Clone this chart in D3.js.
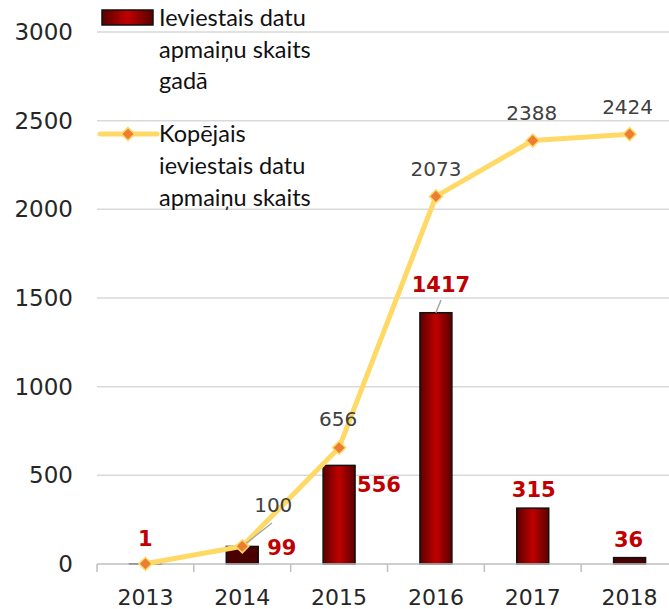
<!DOCTYPE html>
<html>
<head>
<meta charset="utf-8">
<script src="https://cdn.jsdelivr.net/npm/d3@7"></script>
<style>
  body { margin: 0; background: white; }
</style>
</head>
<body>
<div id="chart"></div>
<script>
// data
const years = ["2013", "2014", "2015", "2016", "2017", "2018"];
const perYear = [1, 99, 556, 1417, 315, 36];
const cumulative = [1, 100, 656, 2073, 2388, 2424];
const yTicks = [0, 500, 1000, 1500, 2000, 2500, 3000];
const legendBar = ["Ieviestais datu", "apmaiņu skaits", "gadā"];
const legendLine = ["Kopējais", "ieviestais datu", "apmaiņu skaits"];

const width = 669, height = 609;

const svg = d3.select("#chart")
    .append("svg")
    .attr("width", width)
    .attr("height", height);

const x = d3.scaleBand()
    .domain(years)
    .range([97, 678])
    .padding(0);

const y = d3.scaleLinear()
    .domain([0, 3000])
    .range([564, 32]);

const cx = d => x(d) + x.bandwidth() / 2;

// gradient for the bars
const defs = svg.append("defs");
const grad = defs.append("linearGradient")
    .attr("id", "barGrad")
    .attr("x1", "0%").attr("x2", "100%");
grad.append("stop").attr("offset", "0%").attr("stop-color", "#5a0000");
grad.append("stop").attr("offset", "50%").attr("stop-color", "#c00000");
grad.append("stop").attr("offset", "100%").attr("stop-color", "#5a0000");

// gridlines
svg.append("g")
    .selectAll("line")
    .data(yTicks.filter(t => t > 0))
    .join("line")
    .attr("x1", 97).attr("x2", width)
    .attr("y1", d => y(d)).attr("y2", d => y(d))
    .attr("stroke", "#d9d9d9")
    .attr("stroke-width", 1.5);

// y labels
svg.append("g")
    .selectAll("text")
    .data(yTicks)
    .join("text")
    .attr("x", 73)
    .attr("y", d => y(d) + 8)
    .attr("text-anchor", "end")
    .attr("font-family", "DejaVu Sans")
    .attr("font-size", 23)
    .attr("fill", "#262626")
    .text(d => d);

// bars
const barW = x.bandwidth() * 0.33;
svg.append("g")
    .selectAll("rect")
    .data(years)
    .join("rect")
    .attr("x", d => cx(d) - barW / 2)
    .attr("width", barW)
    .attr("y", (d, i) => y(perYear[i]))
    .attr("height", (d, i) => y(0) - y(perYear[i]))
    .attr("fill", (d, i) => perYear[i] < 120 ? "#4a0000" : "url(#barGrad)")
    .attr("stroke", "#111")
    .attr("stroke-width", 1.5);

// x axis
const xAxis = svg.append("g");
xAxis.append("line")
    .attr("x1", 97).attr("x2", width)
    .attr("y1", y(0)).attr("y2", y(0))
    .attr("stroke", "#bfbfbf").attr("stroke-width", 1.5);
xAxis.selectAll("line.tick")
    .data(years)
    .join("line")
    .attr("class", "tick")
    .attr("x1", d => x(d)).attr("x2", d => x(d))
    .attr("y1", y(0)).attr("y2", y(0) + 8)
    .attr("stroke", "#bfbfbf").attr("stroke-width", 1.5);
xAxis.selectAll("text")
    .data(years)
    .join("text")
    .attr("x", d => cx(d))
    .attr("y", 605)
    .attr("text-anchor", "middle")
    .attr("font-family", "DejaVu Sans")
    .attr("font-size", 22)
    .attr("fill", "#262626")
    .text(d => d);

// cumulative line
const line = d3.line()
    .x((d, i) => cx(years[i]))
    .y(d => y(d));

svg.append("path")
    .datum(cumulative)
    .attr("d", line)
    .attr("fill", "none")
    .attr("stroke", "#ffd966")
    .attr("stroke-width", 5)
    .attr("stroke-linejoin", "round");

const diamond = d3.symbol().type(d3.symbolDiamond2).size(110);
svg.append("g")
    .selectAll("path")
    .data(cumulative)
    .join("path")
    .attr("d", diamond)
    .attr("transform", (d, i) => `translate(${cx(years[i])},${y(d)})`)
    .attr("fill", "#ed7d31")
    .attr("stroke", "#ffd966")
    .attr("stroke-width", 1.5);

// leader lines
svg.append("line")
    .attr("x1", 272).attr("y1", 523)
    .attr("x2", cx("2014") + 4).attr("y2", y(100) - 3)
    .attr("stroke", "#a6a6a6").attr("stroke-width", 1.5);
svg.append("line")
    .attr("x1", 441).attr("y1", 300)
    .attr("x2", cx("2016")).attr("y2", y(1417))
    .attr("stroke", "#a6a6a6").attr("stroke-width", 1.5);

// bar value labels (placement offsets)
const barLabelPos = [
    { dx: 0, dy: -18, anchor: "middle" },
    { dx: 25, dy: 9, anchor: "start" },
    { dx: 18, dy: 27, anchor: "start" },
    { dx: 5, dy: -21, anchor: "middle" },
    { dx: 1, dy: -11, anchor: "middle" },
    { dx: -1, dy: -11, anchor: "middle" }
];
svg.append("g")
    .selectAll("text")
    .data(perYear)
    .join("text")
    .attr("x", (d, i) => cx(years[i]) + barLabelPos[i].dx)
    .attr("y", (d, i) => y(d) + barLabelPos[i].dy)
    .attr("text-anchor", (d, i) => barLabelPos[i].anchor)
    .attr("font-family", "DejaVu Sans")
    .attr("font-weight", "bold")
    .attr("font-size", 21)
    .attr("fill", "#c00000")
    .text(d => d);

// line value labels (2013 has none)
const lineLabelPos = [
    null,
    { dx: 31, dy: -34 },
    { dx: -1, dy: -22 },
    { dx: 0, dy: -20 },
    { dx: -1, dy: -21 },
    { dx: -2, dy: -20 }
];
svg.append("g")
    .selectAll("text")
    .data(cumulative.map((v, i) => ({ v, i })).filter(d => lineLabelPos[d.i]))
    .join("text")
    .attr("x", d => cx(years[d.i]) + lineLabelPos[d.i].dx)
    .attr("y", d => y(d.v) + lineLabelPos[d.i].dy)
    .attr("text-anchor", "middle")
    .attr("font-family", "DejaVu Sans")
    .attr("font-size", 20)
    .attr("fill", "#404040")
    .text(d => d.v);

// legend
const legend = svg.append("g");
legend.append("rect")
    .attr("x", 102).attr("y", 10)
    .attr("width", 51).attr("height", 15)
    .attr("fill", "url(#barGrad)")
    .attr("stroke", "#111").attr("stroke-width", 1.5);
legend.append("text")
    .attr("font-family", "Lato")
    .attr("font-size", 23.5)
    .attr("fill", "#111")
    .selectAll("tspan")
    .data(legendBar)
    .join("tspan")
    .attr("x", 159)
    .attr("y", (d, i) => 26 + i * 31.5)
    .text(d => d);

legend.append("line")
    .attr("x1", 100).attr("x2", 157)
    .attr("y1", 134).attr("y2", 134)
    .attr("stroke", "#ffd966").attr("stroke-width", 5)
    .attr("stroke-linecap", "round");
legend.append("path")
    .attr("d", diamond)
    .attr("transform", "translate(128,134)")
    .attr("fill", "#ed7d31")
    .attr("stroke", "#ffd966")
    .attr("stroke-width", 1.5);
legend.append("text")
    .attr("font-family", "Lato")
    .attr("font-size", 23.5)
    .attr("fill", "#111")
    .selectAll("tspan")
    .data(legendLine)
    .join("tspan")
    .attr("x", 159)
    .attr("y", (d, i) => 142 + i * 32)
    .text(d => d);
</script>
</body>
</html>
